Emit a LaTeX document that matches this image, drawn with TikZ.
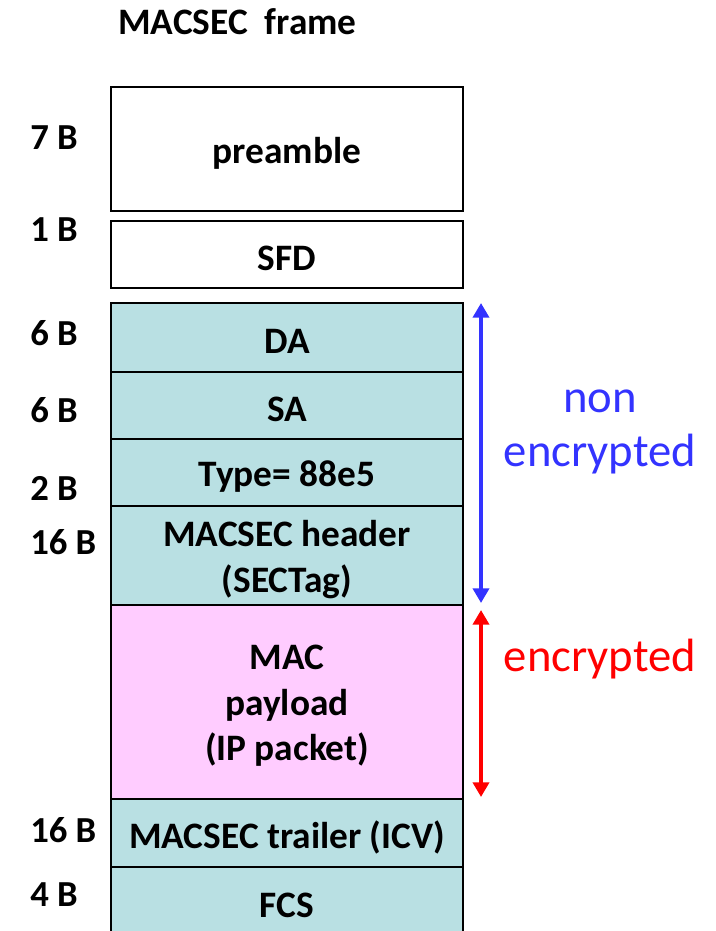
\documentclass[tikz,border=0pt]{standalone}
\usepackage{fontspec}
\setmainfont{Carlito}
\usetikzlibrary{arrows.meta}
\definecolor{teal1}{HTML}{B9E0E3}
\definecolor{pink1}{HTML}{FFCCFF}
\definecolor{blue1}{HTML}{3333FF}
\definecolor{red1}{HTML}{FF0000}
\begin{document}
\begin{tikzpicture}[x=0.75pt,y=-0.75pt,
  fieldbox/.style={draw=black,line width=1.5pt,minimum width=264pt,inner sep=0pt,outer sep=0pt},
  boxtext/.style={yshift=-3pt,inner sep=0pt,font=\fontsize{28}{34}\selectfont\bfseries,align=center},
  sizelbl/.style={anchor=west,inner sep=0pt,font=\fontsize{27.5}{33}\selectfont\bfseries},
  span/.style={line width=3pt,{Triangle[length=11pt,width=12pt]}-{Triangle[length=11pt,width=12pt]}},
  side/.style={font=\fontsize{35}{41}\selectfont,align=center}]
\useasboundingbox (0,0) rectangle (715,931);
\begin{scope}
\clip (0,0) rectangle (715,931);
\node[font=\fontsize{28}{34}\selectfont\bfseries,anchor=west,inner sep=0pt] (title) at (118,22) {MACSEC\ \ frame};

\node[fieldbox,fill=white,minimum height=93pt,label={[boxtext]center:preamble}] (pre) at (287,149) {};
\node[fieldbox,fill=white,minimum height=50.25pt,label={[boxtext]center:SFD}] (sfd) at (287,254.5) {};
\node[fieldbox,fill=teal1,minimum height=51.75pt,label={[boxtext]center:DA}] (da) at (287,337.5) {};
\node[fieldbox,fill=teal1,minimum height=50.25pt,label={[boxtext]center:SA}] (sa) at (287,405.5) {};
\node[fieldbox,fill=teal1,minimum height=50.25pt,label={[boxtext]center:Type= 88e5}] (type) at (287,472.5) {};
\node[fieldbox,fill=teal1,minimum height=74.25pt,label={[boxtext]center:MACSEC header\\(SECTag)}] (hdr) at (287,555.5) {};
\node[fieldbox,fill=pink1,minimum height=145.5pt,label={[boxtext]center:MAC\\payload\\(IP packet)}] (pay) at (287,702) {};
\node[fieldbox,fill=teal1,minimum height=51pt,label={[boxtext]center:MACSEC trailer (ICV)}] (icv) at (287,833) {};
\node[fieldbox,fill=teal1,minimum height=51pt,label={[boxtext]center:FCS}] (fcs) at (287,901) {};

\node[sizelbl] (l1) at (30,138) {7 B};
\node[sizelbl] (l2) at (30,230) {1 B};
\node[sizelbl] (l3) at (30,333) {6 B};
\node[sizelbl] (l4) at (30,410) {6 B};
\node[sizelbl] (l5) at (30,488) {2 B};
\node[sizelbl] (l6) at (30,542) {16 B};
\node[sizelbl] (l7) at (30,830) {16 B};
\node[sizelbl] (l8) at (30,895) {4 B};

\coordinate (bt) at (481,303);
\coordinate (bb) at (481,603);
\coordinate (rt) at (481,610);
\coordinate (rb) at (481,797);
\draw[span,draw=blue1,fill=blue1] (bt) -- (bb);
\draw[span,draw=red1,fill=red1] (rt) -- (rb);

\node[side,text=blue1] (ne) at (600,432) {non\\encrypted};
\node[side,text=red1] (en) at (600,659) {encrypted};
\end{scope}
\end{tikzpicture}
\end{document}
